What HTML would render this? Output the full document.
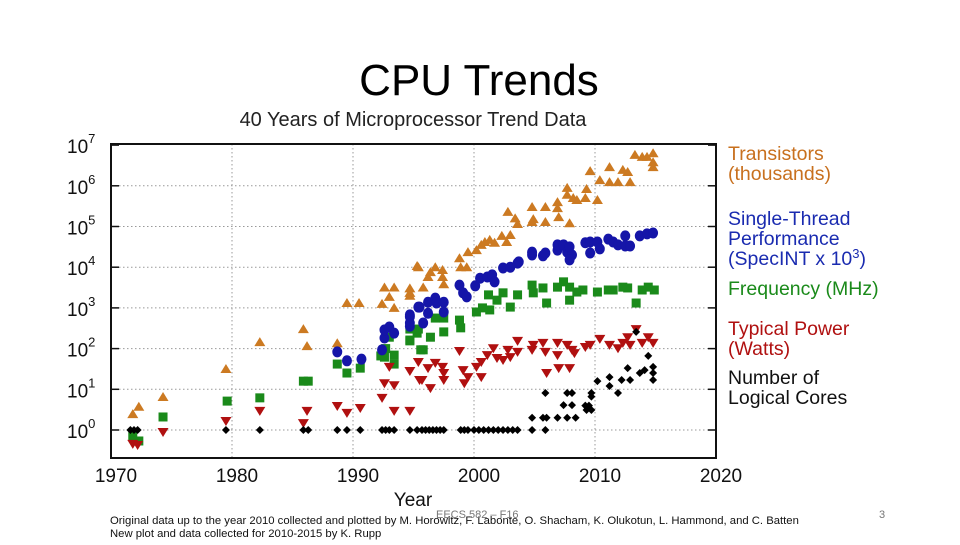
<!DOCTYPE html>
<html><head><meta charset="utf-8"><style>
body{margin:0;background:#fff;width:960px;height:540px;overflow:hidden;font-family:"Liberation Sans",sans-serif}
</style></head><body>
<svg id="chart" width="960" height="540" xmlns="http://www.w3.org/2000/svg" style="font-family:'Liberation Sans',sans-serif">
<text x="479" y="95" text-anchor="middle" font-size="44" fill="#000">CPU Trends</text>
<text x="413" y="126" text-anchor="middle" font-size="20" fill="#222">40 Years of Microprocessor Trend Data</text>
<g id="grid"></g>
<g id="ticks"></g>
<g id="marks"></g>
<rect x="111" y="144" width="605" height="314" fill="none" stroke="#111" stroke-width="2"/>
<text x="413" y="506" text-anchor="middle" font-size="19" fill="#111">Year</text>
<g font-size="19.5">
<text x="728" y="160" fill="#c8701e"><tspan x="728">Transistors</tspan><tspan x="728" dy="20">(thousands)</tspan></text>
<text x="728" y="225" fill="#1a2bb0"><tspan x="728">Single-Thread</tspan><tspan x="728" dy="20">Performance</tspan><tspan x="728" dy="20">(SpecINT x 10</tspan><tspan dy="-7" font-size="13">3</tspan><tspan dy="7">)</tspan></text>
<text x="728" y="295" fill="#1a8a1a">Frequency (MHz)</text>
<text x="728" y="335" fill="#b01010"><tspan x="728">Typical Power</tspan><tspan x="728" dy="20">(Watts)</tspan></text>
<text x="728" y="384" fill="#111"><tspan x="728">Number of</tspan><tspan x="728" dy="20">Logical Cores</tspan></text>
</g>
<text x="110" y="524" font-size="11.3" fill="#111">Original data up to the year 2010 collected and plotted by M. Horowitz, F. Labonte, O. Shacham, K. Olukotun, L. Hammond, and C. Batten</text>
<text x="110" y="537" font-size="11.3" fill="#111">New plot and data collected for 2010-2015 by K. Rupp</text>
<text x="436" y="518" font-size="11" fill="#777">EECS 582 – F16</text>
<text x="879" y="518" font-size="11" fill="#777">3</text>
</svg>
<script>
const xTicks=[1970,1980,1990,2000,2010,2020];
const yTicks=[0,1,2,3,4,5,6,7];
const transYears=[1971.8,1972.3,1974.3,1979.5,1982.3,1985.9,1986.2,1988.7,1989.5,1990.5,1992.4,1992.6,1993,1993.4,1993.4,1994.7,1994.7,1995.4,1995.3,1995.8,1996.2,1996.4,1996.8,1997.4,1997.4,1997.5,1994.7,1998.8,1998.9,1999.4,1999.5,2000.2,2000.6,2000.9,2001.3,2001.7,2002.3,2002.7,2003,2002.8,2003.4,2003.6,2004.8,2004.8,2004.9,2005.9,2005.9,2006.9,2006.9,2007,2007.7,2007.7,2007.9,2008.2,2008.5,2009.2,2009.3,2010.2,2009.6,2010.4,2011.2,2011.2,2011.9,2012.3,2012.7,2012.9,2013.3,2013.9,2014.3,2014.8,2014.8,2014.8];
const transLog=[0.39,0.57,0.81,1.5,2.16,2.48,2.06,2.13,3.12,3.12,3.1,3.5,3.27,3.5,3.0,3.48,3.3,4.0,4.03,3.5,3.76,3.88,4.0,3.93,3.76,3.58,3.37,4.22,4.0,4.0,4.37,4.42,4.55,4.62,4.67,4.6,4.77,4.62,4.79,5.36,5.2,5.06,5.48,5.11,5.18,5.48,5.11,5.6,5.45,5.23,5.95,5.78,5.08,5.7,5.65,5.7,5.92,5.65,6.36,6.14,6.46,6.09,6.09,6.39,6.34,6.09,6.76,6.71,6.71,6.8,6.58,6.46];
const perfYears=[1988.7,1989.5,1990.7,1992.4,1992.6,1992.6,1993,1993.4,1994.7,1994.7,1995.4,1994.7,1994.7,1995.8,1995.5,1996.2,1996.2,1996.8,1996.9,1997.5,1997.5,1998.8,1999.1,1999.4,2000.1,2000.5,2001.1,2001.5,2001.7,2002.4,2003,2003.6,2003.7,2004.8,2004.8,2005.7,2005.9,2006.9,2006.9,2007.4,2007.7,2007.9,2008.1,2007.9,2009.2,2009.6,2010.2,2009.6,2010.4,2011.1,2011.5,2011.9,2012.5,2012.5,2012.9,2013.7,2014.3,2014.8];
const perfLog=[1.92,1.7,1.74,1.97,2.26,2.46,2.53,2.38,2.55,2.78,3.02,2.63,2.83,2.63,3.02,3.14,2.87,3.24,3.12,3.14,2.9,3.56,3.37,3.27,3.54,3.73,3.76,3.81,3.64,3.98,4.0,4.1,4.13,4.3,4.37,4.28,4.35,4.42,4.55,4.55,4.37,4.5,4.3,4.18,4.6,4.62,4.62,4.35,4.45,4.69,4.62,4.55,4.77,4.52,4.52,4.77,4.82,4.84];
const freqYears=[1971.8,1972.3,1974.3,1979.6,1982.3,1985.9,1986.3,1988.7,1989.5,1990.6,1992.3,1992.6,1992.7,1993.4,1993.4,1993,1994.7,1994.7,1995.4,1995.6,1994.7,1995.3,1995.8,1996.4,1996.8,1997.5,1997.5,1998.8,1998.9,2000.2,2000.7,2001.3,2001.2,2001.9,2002.4,2003,2003.6,2004.8,2004.9,2005.7,2006,2006.9,2007.4,2007.9,2007.9,2008.5,2009,2010.2,2011.1,2011.5,2012.3,2012.7,2013.4,2013.9,2014.4,2014.9];
const freqLog=[-0.15,-0.27,0.32,0.71,0.79,1.2,1.2,1.62,1.4,1.52,1.82,1.79,2.0,1.62,1.84,2.28,2.19,2.48,2.48,1.97,2.21,2.38,1.97,2.28,2.75,2.75,2.41,2.7,2.51,2.9,3.0,2.95,3.32,3.19,3.37,3.02,3.32,3.56,3.37,3.49,3.12,3.51,3.64,3.51,3.19,3.39,3.44,3.39,3.44,3.44,3.51,3.49,3.12,3.44,3.51,3.44];
const powerYears=[1971.8,1972.2,1974.3,1979.5,1982.3,1985.9,1986.2,1988.7,1989.5,1990.6,1992.4,1992.6,1993,1993.4,1993.4,1994.7,1994.7,1995.4,1995.5,1995.7,1996.4,1996.2,1996.8,1997.4,1997.5,1997.5,1998.8,1999.1,1999.2,1999.5,2000.2,2000.6,2000.6,2001.1,2001.6,2001.9,2002.4,2002.8,2003,2003.6,2003.6,2004.8,2004.9,2005.7,2005.9,2006,2006.9,2006.9,2007,2007.7,2007.9,2008.1,2008.3,2009.2,2009.6,2010.4,2011.2,2011.9,2012.3,2012.7,2012.9,2013.4,2013.9,2014.4,2014.8];
const powerLog=[-0.34,-0.37,-0.05,0.22,0.47,0.17,0.47,0.59,0.42,0.54,0.79,1.15,1.55,1.1,0.47,0.47,1.45,1.67,1.23,1.23,1.03,1.52,1.65,1.55,1.4,1.23,1.94,1.47,1.15,1.3,1.55,1.3,1.67,1.84,2.01,1.77,1.72,1.97,1.79,1.92,2.19,1.97,2.09,2.14,1.92,1.4,2.14,1.84,1.52,2.09,1.52,1.97,1.89,2.04,2.09,2.24,2.09,2.01,2.14,2.28,2.09,2.48,2.14,2.28,2.14];
const coreYears=[1971.6,1971.9,1972.2,1979.5,1982.3,1985.9,1986.3,1988.7,1989.5,1990.6,1992.4,1992.7,1993,1993.4,1994.7,1995.3,1995.7,1996,1996.3,1996.6,1996.9,1997.2,1997.5,1998.9,1999.2,1999.5,2000,2000.4,2000.8,2001.2,2001.6,2002,2002.4,2002.8,2003.2,2003.6,2004.8,2005.9,2004.8,2005.7,2006,2006.9,2007.7,2008.4,2007.4,2008.1,2009.2,2009.5,2005.9,2007.7,2008.1,2009.7,2009.7,2009.3,2009.7,2010.2,2011.2,2011.2,2011.9,2012.2,2012.7,2012.9,2013.4,2013.7,2014.1,2014.4,2014.8,2014.8,2014.8];
const coreLog=[0,0,0,0,0,0,0,0,0,0,0,0,0,0,0,0,0,0,0,0,0,0,0,0,0,0,0,0,0,0,0,0,0,0,0,0,0,0,0.3,0.3,0.3,0.3,0.3,0.3,0.61,0.61,0.6,0.6,0.91,0.91,0.91,0.91,0.82,0.49,0.49,1.2,1.3,1.08,0.91,1.23,1.52,1.23,2.41,1.4,1.47,1.82,1.55,1.4,1.23];

const NS='http://www.w3.org/2000/svg';
const X0=111,X1=716,Y0=430,DEC=40.7;
function xScale(yr){return X0+(yr-1970)*(X1-X0)/50;}
function yScale(lg){return Y0-lg*DEC;}
function mk(tag,attrs,parent){const e=document.createElementNS(NS,tag);for(const k in attrs)e.setAttribute(k,attrs[k]);parent.appendChild(e);return e;}
const grid=document.getElementById('grid'),ticks=document.getElementById('ticks'),marks=document.getElementById('marks');
xTicks.forEach(t=>{const x=xScale(t);
 if(t>1970&&t<2020){const l=mk('line',{x1:x,x2:x,y1:144,y2:458,stroke:'#999','stroke-dasharray':'1.5 2.5','stroke-width':1},grid);
 
 }
 const tx=mk('text',{x:x+5,y:482,'text-anchor':'middle','font-size':19,fill:'#111'},ticks);tx.textContent=t;
 
 
});
yTicks.forEach(t=>{const y=yScale(t);
 if(t<7){const l=mk('line',{x1:111,x2:716,y1:y,y2:y,stroke:'#999','stroke-dasharray':'1.5 2.5','stroke-width':1},grid);
 
 }
 mk('line',{x1:111,x2:119,y1:y,y2:y,stroke:'#111','stroke-width':1.5},ticks);
 mk('line',{x1:708,x2:716,y1:y,y2:y,stroke:'#111','stroke-width':1.5},ticks);
 const tx=mk('text',{x:67,y:y+8,'font-size':19,fill:'#111'},ticks);
 
 
 const a=mk('tspan',{},tx);a.textContent='10';const b=mk('tspan',{dy:-10,'font-size':13},tx);b.textContent=t;
});
function draw(years,logs,shape,color,name){
 years.forEach((yr,i)=>{const x=xScale(yr),y=yScale(logs[i]);let e;
  if(shape==='up')e=mk('polygon',{points:`${x},${y-5} ${x-5.5},${y+4} ${x+5.5},${y+4}`,fill:color},marks);
  else if(shape==='down')e=mk('polygon',{points:`${x},${y+5} ${x-5.5},${y-4} ${x+5.5},${y-4}`,fill:color},marks);
  else if(shape==='circle')e=mk('ellipse',{cx:x,cy:y,rx:5,ry:5.5,fill:color},marks);
  else if(shape==='square')e=mk('rect',{x:x-4.5,y:y-4.5,width:9,height:9,fill:color},marks);
  else e=mk('polygon',{points:`${x},${y-4} ${x+4},${y} ${x},${y+4} ${x-4},${y}`,fill:color},marks);
  
  
 });
}
draw(transYears,transLog,'up','#cc7a22','transistor-point');
draw(freqYears,freqLog,'square','#1a8a1a','frequency-point');
draw(perfYears,perfLog,'circle','#1515a8','performance-point');
draw(powerYears,powerLog,'down','#b01010','power-point');
draw(coreYears,coreLog,'diamond','#000','cores-point');
</script>
</body></html>
